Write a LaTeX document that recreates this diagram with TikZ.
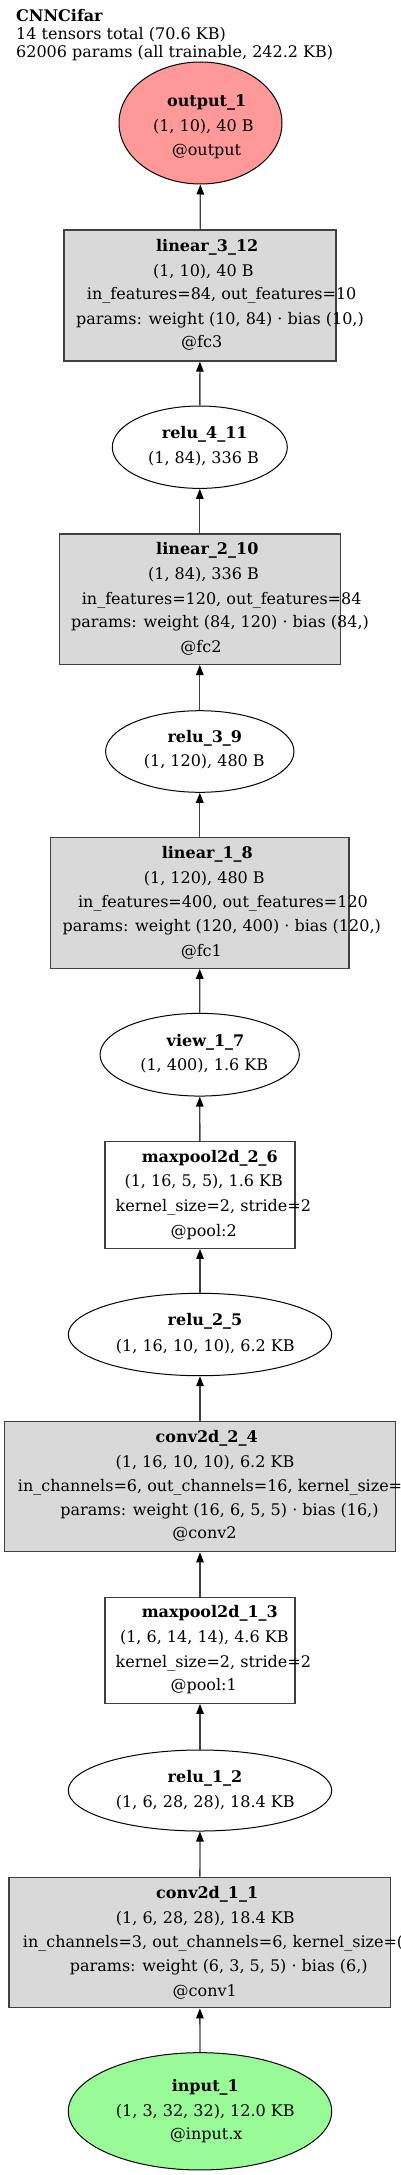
\documentclass[tikz,border=0pt]{standalone}
\usepackage{fontspec}
\setmainfont{DejaVu Serif}
\usetikzlibrary{shapes.geometric,arrows.meta}
\definecolor{outfill}{HTML}{FF9999}
\definecolor{infill}{HTML}{98FB98}
\definecolor{boxfill}{HTML}{D9D9D9}
\definecolor{boxline}{HTML}{404040}
\definecolor{edgeline}{HTML}{404040}
\tikzset{
  oval/.style={ellipse,draw=black,line width=1pt,inner sep=0pt},
  opbox/.style={rectangle,draw=boxline,line width=1.3pt,fill=boxfill,inner sep=0pt},
  plainbox/.style={rectangle,draw=boxline,line width=1.3pt,fill=white,inner sep=0pt},
  txt/.style={inner sep=0pt,anchor=base,font=\fontsize{16pt}{19pt}\selectfont},
  txtw/.style={txt,anchor=base west},
  bold/.style={txt,font=\fontsize{16pt}{19pt}\selectfont\bfseries},
  edge/.style={draw=edgeline,line width=1.3pt,-{Triangle[length=10pt,width=7.5pt,color=black,fill=black]}}
}
\begin{document}
\begin{tikzpicture}[x=1pt,y=-1pt]
\useasboundingbox[fill=white] (0,0) rectangle (400,2175);

% title
\node[bold,anchor=base west] (title) at (16,22) {CNNCifar};
\node[txtw] (tensors) at (16,40) {14 tensors total (70.6 KB)};
\node[txtw] (params) at (16,58) {62006 params (all trainable, 242.2 KB)};

% shapes
\node[oval,fill=outfill,minimum width=163pt,minimum height=122pt] (out) at (200.5,123) {};
\node[opbox,minimum width=272pt,minimum height=131pt] (lin3) at (200,295.5) {};
\node[oval,fill=white,minimum width=175pt,minimum height=82.4pt] (relu4) at (199.8,447.2) {};
\node[opbox,minimum width=281pt,minimum height=130.3pt] (lin2) at (199.8,599.2) {};
\node[oval,fill=white,minimum width=188.4pt,minimum height=81.6pt] (relu3) at (199.8,751.5) {};
\node[opbox,minimum width=298.3pt,minimum height=130.6pt] (lin1) at (199.8,903) {};
\node[oval,fill=white,minimum width=199.3pt,minimum height=82.7pt] (view) at (199.7,1054.7) {};
\node[plainbox,minimum width=190pt,minimum height=106.6pt] (pool2) at (200,1195) {};
\node[oval,fill=white,minimum width=263.4pt,minimum height=82.4pt] (relu2) at (200,1334.5) {};
\node[opbox,minimum width=391.4pt,minimum height=130pt] (conv2) at (200,1486.7) {};
\node[plainbox,minimum width=190pt,minimum height=105.6pt] (pool1) at (200,1650.5) {};
\node[oval,fill=white,minimum width=263.4pt,minimum height=81pt] (relu1) at (200,1790.5) {};
\node[opbox,minimum width=381.7pt,minimum height=130.4pt] (conv1) at (199.8,1942.5) {};
\node[oval,fill=infill,minimum width=263.4pt,minimum height=117.3pt] (inp) at (200,2111.3) {};

% edges
\draw[edge] (inp) -- (conv1);
\draw[edge] (conv1) -- (relu1);
\draw[edge] (relu1) -- (pool1);
\draw[edge] (pool1) -- (conv2);
\draw[edge] (conv2) -- (relu2);
\draw[edge] (relu2) -- (pool2);
\draw[edge] (pool2) -- (view);
\draw[edge] (view) -- (lin1);
\draw[edge] (lin1) -- (relu3);
\draw[edge] (relu3) -- (lin2);
\draw[edge] (lin2) -- (relu4);
\draw[edge] (relu4) -- (lin3);
\draw[edge] (lin3) -- (out);

% texts: output_1
\node[bold] (out-a) at (206.7,106.2) {output\_1};
\node[txt] (out-b) at (203.3,131.5) {(1, 10), 40 B};
\node[txt] (out-c) at (206.5,155.5) {@output};
% linear_3_12
\node[bold] (lin3-a) at (207.2,251.5) {linear\_3\_12};
\node[txt] (lin3-b) at (203.3,276.5) {(1, 10), 40 B};
\node[txt] (lin3-c) at (221.7,299.8) {in\_features=84, out\_features=10};
\node[txt] (lin3-d) at (220,324.5) {params: weight (10, 84) · bias (10,)};
\node[txt] (lin3-e) at (201.7,347.5) {@fc3};
% relu_4_11
\node[bold] (relu4-a) at (204.7,438.8) {relu\_4\_11};
\node[txt] (relu4-b) at (203.5,463.8) {(1, 84), 336 B};
% linear_2_10
\node[bold] (lin2-a) at (207.3,554.8) {linear\_2\_10};
\node[txt] (lin2-b) at (203.5,579.5) {(1, 84), 336 B};
\node[txt] (lin2-c) at (221.7,604.2) {in\_features=120, out\_features=84};
\node[txt] (lin2-d) at (220,627.8) {params: weight (84, 120) · bias (84,)};
\node[txt] (lin2-e) at (201,652.2) {@fc2};
% relu_3_9
\node[bold] (relu3-a) at (204.8,742.2) {relu\_3\_9};
\node[txt] (relu3-b) at (204.3,766.5) {(1, 120), 480 B};
% linear_1_8
\node[bold] (lin1-a) at (207.3,858.8) {linear\_1\_8};
\node[txt] (lin1-b) at (204.3,883.8) {(1, 120), 480 B};
\node[txt] (lin1-c) at (223,907.8) {in\_features=400, out\_features=120};
\node[txt] (lin1-d) at (221.8,931.5) {params: weight (120, 400) · bias (120,)};
\node[txt] (lin1-e) at (201.3,956.2) {@fc1};
% view_1_7
\node[bold] (view-a) at (205.5,1046.2) {view\_1\_7};
\node[txt] (view-b) at (204.2,1070.5) {(1, 400), 1.6 KB};
% maxpool2d_2_6
\node[bold] (pool2-a) at (209.8,1162.2) {maxpool2d\_2\_6};
\node[txt] (pool2-b) at (203.7,1186.5) {(1, 16, 5, 5), 1.6 KB};
\node[txt] (pool2-c) at (213.3,1211.2) {kernel\_size=2, stride=2};
\node[txt] (pool2-d) at (203.7,1236.2) {@pool:2};
% relu_2_5
\node[bold] (relu2-a) at (205,1325.5) {relu\_2\_5};
\node[txt] (relu2-b) at (205.3,1351.2) {(1, 16, 10, 10), 6.2 KB};
% conv2d_2_4
\node[bold] (conv2-a) at (206.7,1442.8) {conv2d\_2\_4};
\node[txt] (conv2-b) at (205,1467.2) {(1, 16, 10, 10), 6.2 KB};
\node[txtw] (conv2-c) at (17.7,1491.2) {in\_channels=6, out\_channels=16, kernel\_size=};
\node[txt] (conv2-d) at (219.5,1515.5) {params: weight (16, 6, 5, 5) · bias (16,)};
\node[txt] (conv2-e) at (204.5,1538.8) {@conv2};
% maxpool2d_1_3
\node[bold] (pool1-a) at (209.8,1617.8) {maxpool2d\_1\_3};
\node[txt] (pool1-b) at (204.3,1642.8) {(1, 6, 14, 14), 4.6 KB};
\node[txt] (pool1-c) at (213.3,1667.2) {kernel\_size=2, stride=2};
\node[txt] (pool1-d) at (203.7,1690.5) {@pool:1};
% relu_1_2
\node[bold] (relu1-a) at (205,1782.2) {relu\_1\_2};
\node[txt] (relu1-b) at (205.3,1807.2) {(1, 6, 28, 28), 18.4 KB};
% conv2d_1_1
\node[bold] (conv1-a) at (207.2,1898.2) {conv2d\_1\_1};
\node[txt] (conv1-b) at (205.3,1923.2) {(1, 6, 28, 28), 18.4 KB};
\node[txtw] (conv1-c) at (22.7,1947.2) {in\_channels=3, out\_channels=6, kernel\_size=(};
\node[txt] (conv1-d) at (218.8,1971.2) {params: weight (6, 3, 5, 5) · bias (6,)};
\node[txt] (conv1-e) at (204.8,1996.5) {@conv1};
% input_1
\node[bold] (inp-a) at (205.3,2091.5) {input\_1};
\node[txt] (inp-b) at (205.3,2116.5) {(1, 3, 32, 32), 12.0 KB};
\node[txt] (inp-c) at (206.2,2139.8) {@input.x};
\end{tikzpicture}
\end{document}
